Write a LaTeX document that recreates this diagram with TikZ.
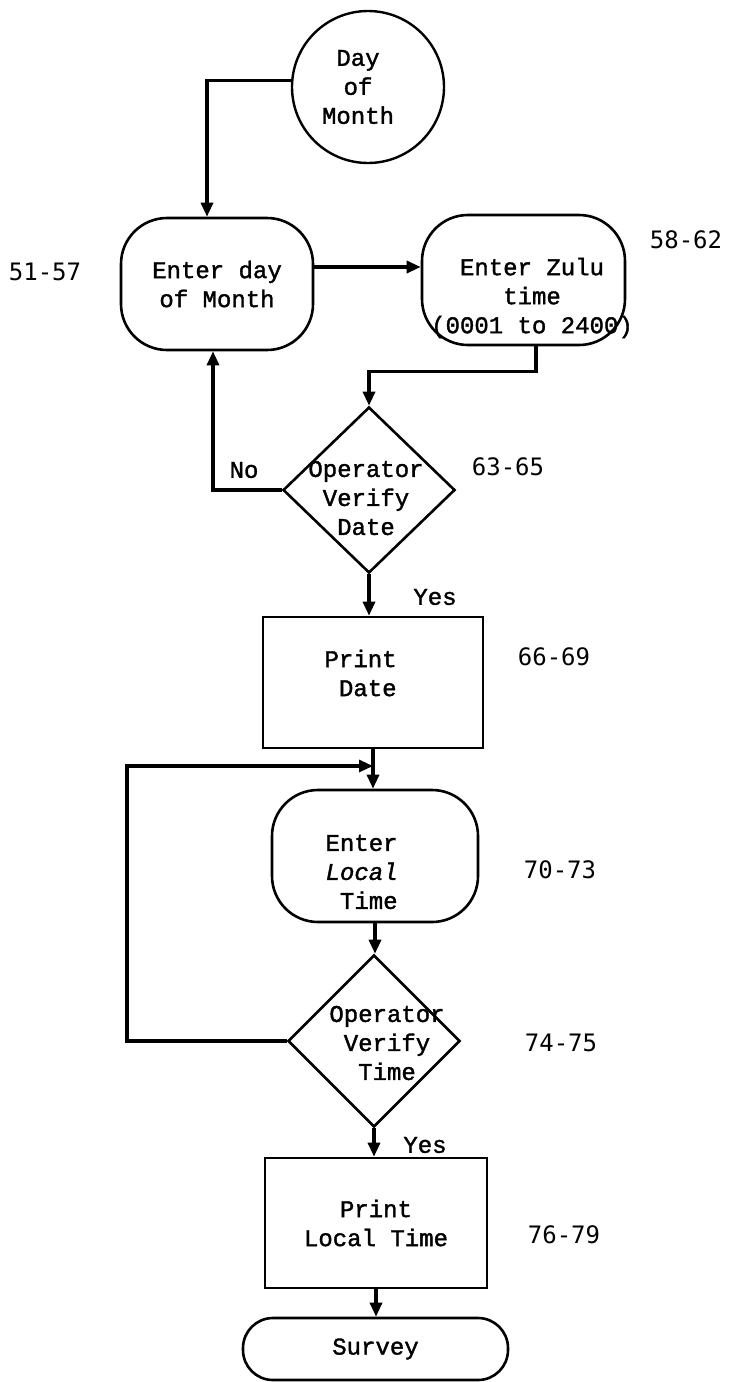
\documentclass[tikz,border=0pt]{standalone}
\usepackage{fontspec}
\setmonofont{Liberation Mono}[FakeBold=1.5]
\newfontfamily\lblfont{DejaVu Sans Mono}
\usetikzlibrary{shapes.geometric,arrows.meta}
\tikzset{
  tt/.style={font=\ttfamily\fontsize{12}{14.5}\selectfont},
  box/.style={draw, line width=1.3pt, tt, align=center, inner sep=0pt},
  rbox/.style={box, rounded corners=23pt},
  dia/.style={draw, diamond, line width=1.3pt, inner sep=0pt},
  txt/.style={tt, inner sep=0pt},
  lbl/.style={font=\lblfont\fontsize{12}{14.5}\selectfont, inner sep=0pt},
  arr/.style={line width=1.6pt, -{Triangle[length=7pt,width=6pt]}}
}
\begin{document}
\begin{tikzpicture}[x=0.5pt,y=-0.5pt]
\useasboundingbox (0,0) rectangle (730,1382);
% nodes
\node[draw, circle, line width=1.2pt, minimum size=76pt, inner sep=0pt] (day) at (368,87) {};
\node[txt, align=center] (daytxt) at (358,87) {Day\\of\\Month};
\node[rbox, minimum width=96pt, minimum height=66pt] (ed) at (217,284) {Enter day\\of Month};
\node[rbox, minimum width=101.5pt, minimum height=65pt] (zulu) at (523.5,280) {};
\node[txt, align=center] (zulutxt) at (532,298) {Enter Zulu\\time\\(0001 to 2400)};
\node[dia, minimum width=86pt, minimum height=83pt] (d1) at (369,490) {};
\node[txt, align=center] (d1txt) at (366,498) {Operator\\Verify\\Date};
\node[box, minimum width=110pt, minimum height=65.5pt] (pd) at (373,682.5) {};
\node[txt, align=right, anchor=east] (pdtxt) at (397,673) {Print\\Date};
\node[rbox, minimum width=103pt, minimum height=66pt] (el) at (375,856) {};
\node[txt, align=right, anchor=east] (eltxt) at (398,872) {Enter\\\textit{Local}\\Time};
\node[dia, minimum width=86pt, minimum height=86pt] (d2) at (374,1041) {};
\node[txt, align=center] (d2txt) at (387,1043) {Operator\\Verify\\Time};
\node[box, minimum width=111pt, minimum height=65pt] (plt) at (376,1223) {Print\\Local Time};
\node[box, rounded corners=15pt, minimum width=132.5pt, minimum height=31pt] (sv) at (375.5,1349) {Survey};
% labels
\node[lbl] (l1) at (45,272) {51-57};
\node[lbl] (l2) at (686,240) {58-62};
\node[lbl] (l3) at (508,467) {63-65};
\node[lbl] (l4) at (554,657) {66-69};
\node[lbl] (l5) at (560,870) {70-73};
\node[lbl] (l6) at (561,1043) {74-75};
\node[lbl] (l7) at (564,1235) {76-79};
\node[tt] (no) at (244,470) {No};
\node[tt] (yes1) at (435,597) {Yes};
\node[tt] (yes2) at (425,1145) {Yes};
% connectors
\draw[arr] (day.175) -| ([xshift=-5pt]ed.north);
\draw[arr] ([yshift=8.5pt]ed.east) coordinate (p1) -- (p1 -| zulu.west);
\draw[arr] ([xshift=6.25pt]zulu.south) -- ++(0,-12.5pt) -| (d1.north);
\draw[arr] (d1.west) -| ([xshift=-2pt]ed.south);
\draw[arr] (d1.south) -- (d1.south |- pd.north);
\draw[arr] (pd.south) -- (pd.south |- el.north);
\coordinate (lp) at (127,766);
\draw[arr] (d2.west) -| (lp) -- (lp -| pd.south);
\draw[arr] (el.south) -- (el.south |- d2.north);
\draw[arr] (d2.south) -- (d2.south |- plt.north);
\draw[arr] (plt.south) -- (plt.south |- sv.north);
\end{tikzpicture}
\end{document}
